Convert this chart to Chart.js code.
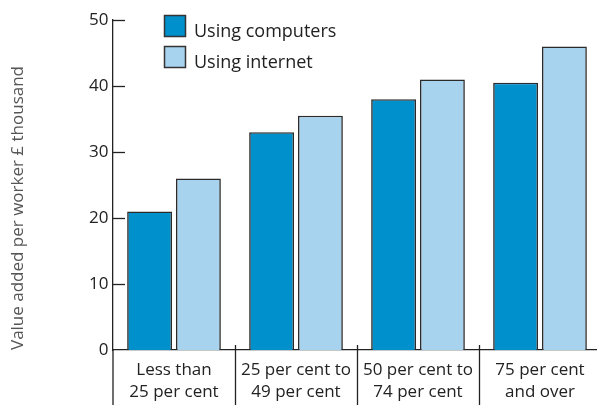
<!DOCTYPE html>
<html>
<head>
<meta charset="utf-8">
<script src="https://cdn.jsdelivr.net/npm/chart.js@4"></script>
<style>
  html, body { margin: 0; padding: 0; background: #fff; overflow: hidden; }
  #wrap { width: 597px; height: 405px; overflow: hidden; }
</style>
</head>
<body>
<div id="wrap"><canvas id="chart" width="605" height="405"></canvas></div>
<script>
// data
const categories = [
  ['Less than', '25 per cent'],
  ['25 per cent to', '49 per cent'],
  ['50 per cent to', '74 per cent'],
  ['75 per cent', 'and over']
];
const usingComputers = [21, 33, 38, 40.5];
const usingInternet = [26, 35.5, 41, 46];
const yTicks = [0, 10, 20, 30, 40, 50];
const yTitle = 'Value added per worker \u00a3 thousand';

const FONT = '"Open Sans", "Noto Sans", sans-serif';
const INK = '#222';

// inward y ticks, category separators, y title and legend
const extras = {
  id: 'extras',
  afterDraw(chart) {
    const ctx = chart.ctx;
    const x = chart.scales.x, y = chart.scales.y;
    const area = chart.chartArea;
    ctx.save();
    ctx.strokeStyle = INK;
    ctx.lineWidth = 1.3;

    // ticks pointing into the plot
    yTicks.forEach(v => {
      if (v === 0) return;
      const py = Math.round(y.getPixelForValue(v)) + 0.5;
      ctx.beginPath();
      ctx.moveTo(area.left, py);
      ctx.lineTo(area.left + 12, py);
      ctx.stroke();
    });

    // separators between categories, running down through the labels
    ctx.beginPath();
    ctx.moveTo(area.left, area.bottom);
    ctx.lineTo(area.left, chart.height);
    for (let i = 1; i < categories.length; i++) {
      const px = Math.round((x.getPixelForTick(i - 1) + x.getPixelForTick(i)) / 2) + 0.5;
      ctx.moveTo(px, area.bottom - 5);
      ctx.lineTo(px, chart.height);
    }
    ctx.stroke();

    // y axis title
    ctx.fillStyle = '#555';
    ctx.font = '17px ' + FONT;
    ctx.textAlign = 'center';
    ctx.textBaseline = 'middle';
    ctx.translate(18, 208);
    ctx.rotate(-Math.PI / 2);
    ctx.fillText(yTitle, 0, 0);
    ctx.setTransform(1, 0, 0, 1, 0, 0);

    // legend
    ctx.font = '18px ' + FONT;
    ctx.textAlign = 'left';
    ctx.textBaseline = 'alphabetic';
    chart.data.datasets.forEach((ds, i) => {
      const top = 15 + i * 31;
      ctx.fillStyle = ds.backgroundColor;
      ctx.fillRect(164, top, 22, 22);
      ctx.strokeStyle = '#333';
      ctx.lineWidth = 1.5;
      ctx.strokeRect(164.5, top + 0.5, 21, 21);
      ctx.fillStyle = INK;
      ctx.fillText(ds.label, 194, top + 22);
    });
    ctx.restore();
  }
};

new Chart(document.getElementById('chart'), {
  type: 'bar',
  data: {
    labels: categories,
    datasets: [
      {
        label: 'Using computers',
        data: usingComputers,
        backgroundColor: '#0090cc',
        borderColor: '#2b2b2b',
        borderWidth: 1.6
      },
      {
        label: 'Using internet',
        data: usingInternet,
        backgroundColor: '#a8d3ee',
        borderColor: '#2b2b2b',
        borderWidth: 1.6
      }
    ]
  },
  options: {
    responsive: false,
    animation: false,
    categoryPercentage: 0.8,
    barPercentage: 0.92,
    layout: { padding: { top: 20, right: 4, left: 0, bottom: 0 } },
    plugins: {
      legend: { display: false },
      tooltip: { enabled: false }
    },
    scales: {
      x: {
        grid: { display: false },
        border: { display: true, color: INK, width: 1.3 },
        ticks: {
          color: INK,
          font: { family: FONT, size: 17, lineHeight: 1.25 },
          padding: 2,
          maxRotation: 0,
          autoSkip: false
        },
        afterFit(scale) { scale.height = 55; }
      },
      y: {
        min: 0,
        max: 50,
        afterBuildTicks(scale) { scale.ticks = yTicks.map(v => ({ value: v })); },
        grid: { display: false },
        border: { display: true, color: INK, width: 1.3 },
        ticks: {
          color: INK,
          font: { family: FONT, size: 17 },
          padding: -3.5
        },
        afterFit(scale) { scale.width = 113; }
      }
    }
  },
  plugins: [extras]
});
</script>
</body>
</html>
